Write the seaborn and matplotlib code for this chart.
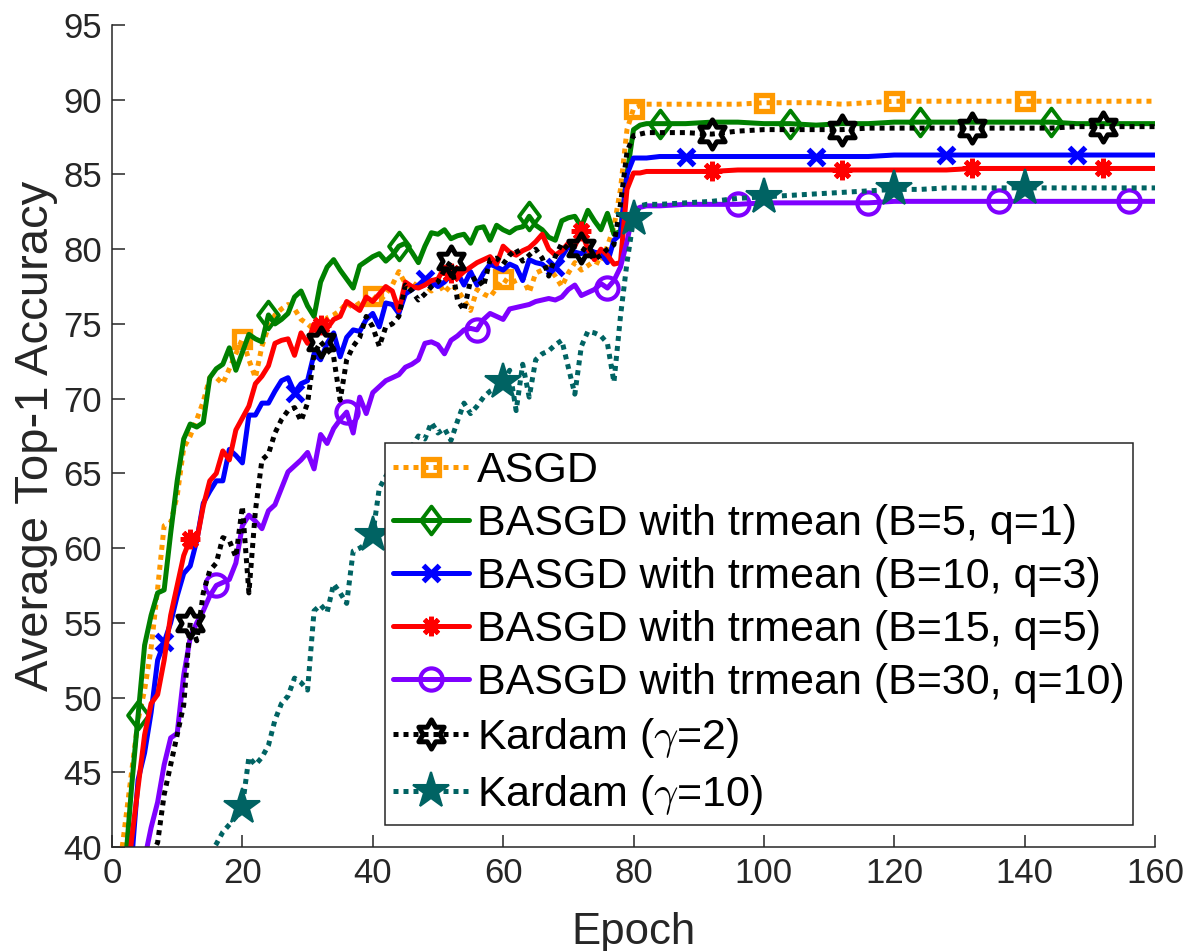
import matplotlib
matplotlib.use("Agg")
import matplotlib.pyplot as plt
from matplotlib.lines import Line2D
from matplotlib.path import Path
import seaborn as sns

# epochs 1..82 every epoch, then every 4 epochs (curves are flat there)
epochs = list(range(1, 83)) + list(range(84, 161, 4))

asgd = [
    38.0, 41.5, 45.0, 48.5, 50.5, 53.3, 57.3, 61.5, 61.7, 63.5,
    66.7, 67.5, 68.6, 69.8, 71.4, 71.4, 71.0, 72.0, 73.0, 74.0,
    72.6, 71.4, 73.5, 74.8, 75.6, 76.0, 76.3, 76.0, 75.3, 75.0,
    74.6, 74.3, 75.4, 75.6, 75.9, 76.4, 76.1, 76.4, 76.7, 76.9,
    76.5, 77.0, 77.6, 78.5, 77.7, 77.3, 77.9, 77.6, 77.2, 77.8,
    77.1, 77.6, 77.3, 76.6, 75.9, 77.3, 77.0, 76.8, 77.4, 78.0,
    77.7, 77.9, 78.1, 77.1, 78.4, 78.6, 78.8, 78.2, 77.5, 78.4,
    79.1, 78.6, 78.9, 79.2, 79.0, 80.2, 81.5, 84.0, 88.0, 89.4,
    89.6, 89.7, 89.7, 89.7, 89.7, 89.7, 89.8, 89.8, 89.8, 89.7, 89.8,
    89.9, 89.9, 89.9, 89.9, 89.9, 89.9, 89.9, 89.9, 89.9, 89.9, 89.9,
]
basgd_b5 = [
    32.0, 38.5, 44.0, 48.8, 53.5, 55.5, 57.0, 57.2, 61.0, 64.5,
    67.3, 68.3, 68.1, 68.4, 71.4, 72.0, 72.3, 73.4, 71.9, 73.1,
    74.3, 74.0, 73.8, 75.6, 75.0, 75.3, 75.7, 76.8, 77.2, 76.2,
    75.5, 77.8, 78.8, 79.3, 78.6, 78.0, 77.4, 78.9, 79.2, 79.5,
    79.7, 79.2, 79.6, 80.2, 80.4, 79.8, 79.1, 80.2, 81.1, 81.0,
    81.3, 80.7, 80.9, 81.0, 80.4, 81.4, 81.5, 80.6, 81.6, 81.3,
    81.1, 81.4, 81.5, 82.2, 81.6, 81.3, 80.8, 80.6, 81.9, 82.1,
    82.2, 81.5, 82.6, 81.9, 81.3, 82.4, 81.0, 81.2, 85.0, 88.0,
    88.3, 88.4, 88.4, 88.4, 88.5, 88.5, 88.4, 88.4, 88.3, 88.4, 88.4,
    88.5, 88.5, 88.5, 88.5, 88.5, 88.5, 88.5, 88.4, 88.4, 88.4, 88.4,
]
basgd_b10 = [
    30.0, 35.0, 39.0, 44.5, 46.3, 49.0, 52.5, 53.7, 55.0, 56.8,
    58.3, 58.8, 60.5, 63.0, 63.8, 64.5, 64.5, 66.6, 66.2, 65.7,
    68.9, 68.9, 69.7, 69.7, 70.5, 71.2, 71.4, 70.4, 71.0, 71.2,
    73.0, 72.6, 73.7, 74.4, 72.8, 74.1, 74.6, 74.5, 75.3, 75.7,
    74.8, 76.4, 76.3, 75.7, 77.0, 77.3, 77.6, 78.0, 77.8, 77.5,
    77.8, 78.3, 78.4, 77.6, 78.5, 77.6, 78.4, 79.0, 78.8, 78.6,
    79.0, 78.8, 77.9, 79.3, 79.1, 79.0, 78.6, 78.8, 79.5, 80.2,
    79.8, 79.7, 80.0, 79.8, 79.7, 79.1, 80.6, 81.0, 85.0, 86.1,
    86.1, 86.1, 86.2, 86.2, 86.2, 86.2, 86.2, 86.2, 86.2, 86.2, 86.2,
    86.3, 86.3, 86.3, 86.3, 86.3, 86.3, 86.3, 86.3, 86.3, 86.3, 86.3,
]
basgd_b15 = [
    30.0, 36.0, 40.5, 44.0, 47.5, 49.6, 50.2, 52.5, 55.5, 57.5,
    59.5, 60.6, 60.5, 62.8, 64.5, 65.0, 66.5, 65.9, 67.9, 68.7,
    69.5, 71.0, 71.5, 72.2, 73.7, 73.9, 74.0, 72.9, 74.4, 73.7,
    75.0, 74.9, 74.7, 75.3, 75.5, 76.5, 76.2, 75.9, 76.8, 76.5,
    77.0, 77.5, 77.2, 75.9, 77.8, 77.5, 77.4, 77.6, 77.9, 78.0,
    78.8, 78.4, 78.1, 78.5, 78.8, 79.1, 79.3, 79.5, 79.0, 80.2,
    79.8, 79.6, 79.9, 80.1, 80.5, 81.0, 80.0, 79.6, 79.9, 80.4,
    80.2, 81.2, 80.0, 79.3, 80.0, 79.6, 79.0, 79.1, 84.0, 85.1,
    85.1, 85.2, 85.2, 85.2, 85.2, 85.3, 85.3, 85.3, 85.3, 85.3, 85.3,
    85.3, 85.3, 85.3, 85.4, 85.4, 85.4, 85.4, 85.4, 85.4, 85.4, 85.4,
]
basgd_b30 = [
    25.0, 30.0, 34.0, 37.0, 39.2, 41.3, 43.0, 45.5, 47.3, 47.6,
    51.5, 54.0, 55.0, 55.8, 56.8, 57.5, 57.7, 57.9, 59.0, 61.5,
    62.2, 61.8, 61.3, 62.5, 62.9, 64.0, 65.1, 65.5, 65.9, 66.4,
    65.3, 67.6, 67.0, 68.0, 68.6, 69.1, 67.7, 70.1, 69.0, 70.4,
    70.8, 71.2, 71.4, 71.6, 72.1, 72.3, 72.6, 73.7, 73.8, 73.6,
    73.0, 73.9, 74.2, 74.6, 74.7, 74.6, 75.3, 75.7, 75.5, 75.3,
    76.0, 76.1, 76.2, 76.3, 76.5, 76.6, 76.7, 76.6, 76.8, 77.3,
    77.6, 76.9, 77.1, 77.3, 77.7, 77.4, 77.9, 78.8, 80.5, 82.6,
    82.8, 82.9, 82.9, 83.0, 83.0, 83.0, 83.1, 83.1, 83.1, 83.1, 83.1,
    83.2, 83.2, 83.2, 83.2, 83.2, 83.2, 83.2, 83.2, 83.2, 83.2, 83.2,
]
kardam_g2 = [
    25.0, 29.0, 32.0, 35.0, 37.5, 39.3, 40.3, 43.5, 45.5, 47.5,
    49.5, 55.0, 53.8, 57.0, 58.5, 59.0, 60.7, 60.5, 59.4, 62.8,
    57.0, 62.5, 65.9, 66.3, 67.7, 68.6, 69.2, 69.4, 68.5, 69.7,
    73.0, 73.8, 73.3, 72.8, 69.9, 72.6, 73.5, 74.1, 75.5, 74.8,
    73.5, 74.8, 75.0, 75.5, 77.6, 77.2, 76.6, 77.0, 77.5, 77.8,
    78.6, 79.2, 76.6, 75.9, 77.9, 78.1, 77.5, 79.3, 79.4, 79.0,
    79.6, 80.0, 79.2, 79.6, 80.0, 79.4, 78.2, 79.5, 80.4, 80.0,
    80.2, 80.1, 79.8, 79.3, 79.6, 80.0, 80.3, 83.0, 86.5, 87.6,
    87.7, 87.8, 87.8, 87.8, 87.7, 87.9, 88.0, 88.0, 88.0, 88.0, 88.1,
    88.1, 88.1, 88.1, 88.1, 88.1, 88.1, 88.1, 88.2, 88.2, 88.2, 88.2,
]
kardam_g10 = [
    22.0, 24.0, 26.0, 28.0, 29.5, 31.0, 32.0, 33.5, 34.5, 35.5,
    36.5, 37.2, 38.0, 38.8, 39.5, 40.2, 41.0, 41.5, 42.0, 42.7,
    46.0, 45.5, 46.0, 46.8, 48.5, 49.6, 50.1, 51.3, 51.0, 50.5,
    55.8, 56.2, 55.7, 57.6, 57.0, 56.3, 59.8, 60.0, 60.3, 60.9,
    64.0, 64.8, 65.5, 66.0, 66.3, 66.8, 67.5, 67.3, 68.4, 67.7,
    68.0, 67.2, 68.5, 69.7, 69.0, 69.5, 70.1, 70.5, 70.7, 71.1,
    71.9, 69.2, 72.3, 70.1, 72.6, 73.0, 73.2, 73.6, 73.9, 72.1,
    70.3, 73.5, 74.5, 74.4, 74.2, 73.7, 71.1, 75.5, 79.1, 82.0,
    82.9, 83.0, 83.0, 83.1, 83.2, 83.4, 83.5, 83.6, 83.7, 83.8, 83.9,
    84.0, 84.0, 84.1, 84.1, 84.1, 84.1, 84.1, 84.1, 84.1, 84.1, 84.1,
]

labels = [
    "ASGD",
    "BASGD with trmean (B=5, q=1)",
    "BASGD with trmean (B=10, q=3)",
    "BASGD with trmean (B=15, q=5)",
    "BASGD with trmean (B=30, q=10)",
    "Kardam ($\\gamma$=2)",
    "Kardam ($\\gamma$=10)",
]
series = [asgd, basgd_b5, basgd_b10, basgd_b15, basgd_b30, kardam_g2, kardam_g10]
marker_epochs = [
    [20, 40, 60, 80, 100, 120, 140],
    [4, 24, 44, 64, 84, 104, 124, 144],
    [8, 28, 48, 68, 88, 108, 128, 148],
    [12, 32, 52, 72, 92, 112, 132, 152],
    [16, 36, 56, 76, 96, 116, 136, 156],
    [12, 32, 52, 72, 92, 112, 132, 152],
    [20, 40, 60, 80, 100, 120, 140],
]

dotted = (0, (1, 1))
diamond = Path([(0, 1), (0.75, 0), (0, -1), (-0.75, 0), (0, 1)], closed=True)
hexagram = Path.unit_regular_star(6, innerCircle=0.577)

styles = [
    dict(color="#FF9900", linestyle=dotted, marker="s", markersize=11, markeredgewidth=3.8, markerfacecolor="none"),
    dict(color="#008000", linestyle="-", marker=diamond, markersize=20, markeredgewidth=2.8, markerfacecolor="none"),
    dict(color="#0000FF", linestyle="-", marker="x", markersize=11, markeredgewidth=3.8, markerfacecolor="none"),
    dict(color="#FF0000", linestyle="-", marker=(8, 2, 0), markersize=14, markeredgewidth=3.5, markerfacecolor="none"),
    dict(color="#7F00FF", linestyle="-", marker="o", markersize=16, markeredgewidth=3.0, markerfacecolor="none"),
    dict(color="#000000", linestyle=dotted, marker=hexagram, markersize=21, markeredgewidth=3.6, markerfacecolor="none"),
    dict(color="#006363", linestyle=dotted, marker="*", markersize=27, markeredgewidth=1.5, markerfacecolor="#006363"),
]

sns.set_style("ticks")
plt.rcParams["font.family"] = ["Liberation Sans", "DejaVu Sans"]
plt.rcParams["mathtext.fontset"] = "cm"

fig = plt.figure(figsize=(11.85, 9.51), dpi=100)
ax = fig.add_axes([112 / 1185, 1 - 847 / 951, 1043 / 1185, 822 / 951])

handles = []
for values, marks, st, label in zip(series, marker_epochs, styles, labels):
    idx = [epochs.index(e) for e in marks]
    sns.lineplot(
        x=epochs, y=values, ax=ax, estimator=None, sort=False,
        linewidth=3.6, markevery=idx, markeredgecolor=st["color"], **st,
    )
    handles.append(
        Line2D([], [], linewidth=3.6, markeredgecolor=st["color"], label=label, **st)
    )

ax.set_xlim(0, 160)
ax.set_ylim(40, 95)
ax.set_xticks(range(0, 161, 20))
ax.set_yticks(range(40, 96, 5))
ax.tick_params(direction="in", length=9, width=1.1, labelsize=25, pad=7,
               colors="#262626", labelcolor="#262626")
for side in ["top", "right"]:
    ax.spines[side].set_visible(False)
for side in ["left", "bottom"]:
    ax.spines[side].set_color("#262626")
    ax.spines[side].set_linewidth(1.1)

ax.set_xlabel("Epoch", fontsize=31.5, color="#262626", labelpad=16)
ax.set_ylabel("Average Top-1 Accuracy", fontsize=34, color="#262626", labelpad=4)

leg = ax.legend(
    handles=handles, loc="lower right", fontsize=31, frameon=True, fancybox=False,
    edgecolor="#262626", framealpha=1, borderpad=0.2, borderaxespad=0.5,
    handlelength=1.75, handletextpad=0.2, labelspacing=0.3, labelcolor="black",
)
leg.get_frame().set_linewidth(1.1)

fig.savefig("out.png", dpi=100)
